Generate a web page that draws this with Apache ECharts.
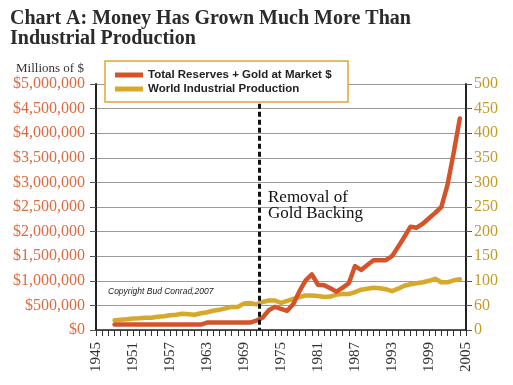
<!DOCTYPE html>
<html>
<head>
<meta charset="utf-8">
<script src="https://cdn.jsdelivr.net/npm/echarts@6/dist/echarts.min.js"></script>
<style>
html,body{margin:0;padding:0;background:#fff;}
#chart{width:513px;height:385px;}
</style>
</head>
<body>
<div id="chart"></div>
<script>
// ---- data ----
const years = [1948,1949,1950,1951,1952,1953,1954,1955,1956,1957,1958,1959,1960,1961,1962,1963,1964,1965,1966,1967,1968,1969,1970,1971,1972,1973,1974,1975,1976,1977,1978,1979,1980,1981,1982,1983,1984,1985,1986,1987,1988,1989,1990,1991,1992,1993,1994,1995,1996,1997,1998,1999,2000,2001,2002,2003,2004];
// Total reserves + gold at market $ (millions of $)
const reserves = [110000,110000,110000,110000,110000,110000,110000,110000,110000,110000,110000,110000,110000,110000,110000,150000,150000,150000,150000,150000,150000,150000,150000,190000,250000,400000,470000,430000,390000,530000,790000,1010000,1130000,920000,910000,850000,780000,860000,950000,1300000,1220000,1320000,1420000,1420000,1420000,1500000,1690000,1890000,2100000,2080000,2160000,2270000,2380000,2500000,2950000,3600000,4300000];
// World industrial production (index)
const production = [20,21,22,23.5,24,25,25,27,28,30,31,33,32,31,34,36,39,41,44,47,47,54,55,52,57,60,60,55,59,63,67,70,70,69,67,68,72,73,73,77,82,84,86,85,83,79,84,90,93,95,97,100,104,97,97,101,103];
const seriesNames = ['Total Reserves + Gold at Market $', 'World Industrial Production'];
const xTickLabels = ['1945','1951','1957','1963','1969','1975','1981','1987','1993','1999','2005'];
const leftTickLabels = ['$0','$500,000','$1,000,000','$1,500,000','$2,000,000','$2,500,000','$3,000,000','$3,500,000','$4,000,000','$4,500,000','$5,000,000'];
const rightTickLabels = ['0','60','100','150','200','250','300','350','400','450','500'];
const goldRemovalYear = 1971.5;
const titleText = 'Chart A: Money Has Grown Much More Than\nIndustrial Production';
const unitText = 'Millions of $';
const noteText = 'Removal of\nGold Backing';
const copyrightText = 'Copyright Bud Conrad,2007';

// ---- chart ----
const RED = '#d4532b', GOLD = '#d6a82c';
const chart = echarts.init(document.getElementById('chart'), null, {renderer: 'canvas'});
const serif = '"Liberation Serif", "DejaVu Serif", serif';

chart.setOption({
  animation: false,
  backgroundColor: '#fff',
  title: {
    text: titleText,
    left: 10, top: 9, padding: 0,
    textStyle: {fontFamily: serif, fontWeight: 'bold', fontSize: 20, lineHeight: 20, color: '#2b2b2b'}
  },
  legend: {
    orient: 'vertical',
    left: 105, top: 61,
    icon: 'rect',
    itemWidth: 28, itemHeight: 5, itemGap: 0,
    padding: [7, 10, 6, 10],
    backgroundColor: '#fff',
    borderColor: '#dba834', borderWidth: 1.5,
    textStyle: {fontFamily: '"Liberation Sans", Arial, sans-serif', fontWeight: 'bold', fontSize: 11.5, color: '#222', lineHeight: 14, width: 190},
    data: seriesNames
  },
  grid: {left: 96, right: 47, top: 84, bottom: 55},
  xAxis: {
    type: 'value', min: 1945, max: 2005, interval: 6,
    axisLine: {show: true, lineStyle: {color: '#222', width: 1.5}},
    axisTick: {show: true, length: 6, lineStyle: {color: '#333'}},
    minorTick: {show: true, splitNumber: 6, length: 6, lineStyle: {color: '#333'}},
    splitLine: {show: false},
    axisLabel: {
      rotate: 90, margin: 12,
      fontFamily: serif, fontSize: 15, color: '#333',
      formatter: v => xTickLabels[Math.round((v - 1945) / 6)]
    }
  },
  yAxis: [{
    type: 'value', min: 0, max: 5000000, interval: 500000,
    name: unitText, nameLocation: 'end', nameGap: 9,
    nameTextStyle: {fontFamily: serif, fontSize: 13, color: '#333', align: 'center', padding: [0, 0, 0, -92]},
    axisLine: {show: true, lineStyle: {color: '#222', width: 2}},
    axisTick: {show: true, length: 6, lineStyle: {color: '#555'}},
    splitLine: {show: true, lineStyle: {color: '#9a9a9a', width: 1}},
    axisLabel: {
      margin: 11, fontFamily: serif, fontSize: 16, color: '#de6a42',
      formatter: v => leftTickLabels[Math.round(v / 500000)]
    }
  }, {
    type: 'value', min: 0, max: 500, interval: 50, position: 'right',
    axisLine: {show: true, lineStyle: {color: '#222', width: 2}},
    axisTick: {show: true, length: 6, lineStyle: {color: '#555'}},
    splitLine: {show: false},
    axisLabel: {
      margin: 8, fontFamily: serif, fontSize: 16, color: '#c39b22',
      formatter: v => rightTickLabels[Math.round(v / 50)]
    }
  }],
  series: [{
    name: seriesNames[0], type: 'line', yAxisIndex: 0, z: 4,
    data: years.map((y, i) => [y, reserves[i]]),
    showSymbol: false, symbol: 'none',
    lineStyle: {color: RED, width: 4.5, cap: 'round', join: 'round'},
    itemStyle: {color: RED},
    markLine: {
      silent: true, symbol: 'none', label: {show: false},
      lineStyle: {color: '#111', width: 3, type: [5, 3]},
      data: [[{coord: [goldRemovalYear, 4600000]}, {coord: [goldRemovalYear, 0]}]]
    }
  }, {
    name: seriesNames[1], type: 'line', yAxisIndex: 1, z: 3,
    data: years.map((y, i) => [y, production[i]]),
    showSymbol: false, symbol: 'none',
    lineStyle: {color: GOLD, width: 4.5, cap: 'round', join: 'round'},
    itemStyle: {color: GOLD}
  }],
  graphic: [{
    type: 'text', left: 268, top: 189, z: 10,
    style: {text: noteText, fontFamily: serif, fontSize: 17, lineHeight: 16, fill: '#111'}
  }, {
    type: 'text', left: 108, top: 287, z: 10,
    style: {text: copyrightText, fontFamily: '"Liberation Sans", Arial, sans-serif', fontStyle: 'italic', fontSize: 8.5, fill: '#222'}
  }]
});
</script>
</body>
</html>
